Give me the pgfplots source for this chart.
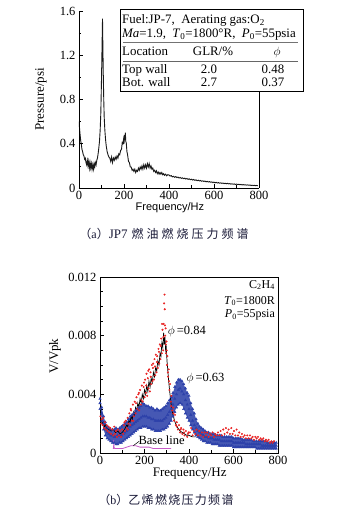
\documentclass[border=0pt]{standalone}
\usepackage{pgfplots}
\pgfplotsset{compat=1.18}
\usepackage{pgfplotstable}
\usepackage{fontspec}
\setmainfont{Liberation Serif}
\newfontfamily\sansfont{Liberation Sans}
\newfontfamily\cjk{Noto Sans CJK SC}
\definecolor{pblue}{RGB}{45,65,170}
\definecolor{pred}{RGB}{232,35,35}
\definecolor{pmag}{RGB}{200,90,200}
\definecolor{capcol}{RGB}{25,25,55}

\pgfplotstableread{
f v
0 0.60
2 0.55
4 0.50
6 0.46
8 0.42
10 0.40
13 0.35
16 0.33
19 0.30
22 0.29
25 0.26
28 0.27
31 0.23
34 0.21
37 0.25
40 0.20
43 0.24
46 0.18
49 0.23
52 0.18
55 0.22
58 0.17
61 0.21
64 0.17
67 0.22
70 0.19
73 0.23
76 0.21
79 0.25
82 0.27
85 0.31
88 0.36
91 0.42
94 0.52
97 0.68
99 0.88
101 1.10
103 1.35
104.5 1.53
106 1.30
108 1.02
110 0.80
112 0.64
115 0.52
118 0.44
121 0.38
125 0.33
129 0.30
133 0.28
137 0.27
141 0.24
145 0.28
149 0.23
153 0.27
157 0.25
161 0.28
165 0.26
169 0.29
173 0.27
177 0.31
181 0.30
185 0.34
189 0.35
192 0.41
195 0.40
198 0.44
200 0.40
202 0.48
204 0.43
206 0.50
208 0.42
210 0.41
213 0.33
216 0.30
220 0.24
224 0.23
228 0.19
232 0.19
236 0.16
240 0.17
244 0.15
248 0.17
252 0.14
256 0.16
260 0.15
264 0.18
268 0.16
272 0.19
276 0.17
280 0.20
284 0.17
288 0.21
292 0.18
296 0.21
300 0.18
304 0.22
308 0.19
312 0.22
316 0.18
320 0.20
324 0.17
328 0.18
332 0.15
336 0.16
340 0.14
344 0.155
348 0.13
352 0.145
356 0.125
360 0.14
364 0.125
368 0.14
372 0.12
376 0.13
380 0.115
385 0.125
390 0.11
395 0.12
400 0.118
405 0.108
410 0.112
415 0.101
420 0.106
425 0.097
430 0.103
435 0.094
440 0.099
445 0.090
450 0.095
455 0.087
460 0.092
465 0.084
470 0.089
475 0.081
480 0.086
485 0.078
490 0.083
495 0.075
500 0.080
505 0.072
510 0.077
515 0.069
520 0.074
525 0.066
530 0.071
535 0.064
540 0.068
545 0.061
550 0.065
555 0.059
560 0.063
565 0.056
570 0.060
575 0.054
580 0.058
585 0.052
590 0.055
595 0.049
600 0.053
605 0.047
610 0.051
615 0.045
620 0.049
625 0.043
630 0.047
635 0.042
640 0.045
645 0.040
650 0.043
655 0.038
660 0.042
665 0.037
670 0.040
675 0.035
680 0.038
685 0.034
690 0.037
695 0.032
700 0.035
705 0.031
710 0.034
715 0.030
720 0.032
725 0.028
730 0.031
735 0.027
740 0.029
745 0.026
750 0.028
755 0.025
760 0.027
765 0.023
770 0.025
775 0.022
780 0.024
785 0.021
790 0.023
795 0.020
}\toptab

\pgfplotstableread{
f lo mid hi
0 0.0030 0.0034 0.0037
8 0.0022 0.0027 0.0031
16 0.0016 0.0020 0.0025
24 0.0012 0.0016 0.0021
32 0.0010 0.0014 0.0018
40 0.0009 0.0013 0.0017
48 0.0008 0.0012 0.0016
56 0.0007 0.0012 0.0016
64 0.0007 0.0011 0.0016
72 0.0006 0.0011 0.0017
80 0.0006 0.0012 0.0016
88 0.0007 0.0012 0.0017
96 0.0007 0.0012 0.0018
104 0.0008 0.0013 0.0019
112 0.0009 0.0014 0.0020
120 0.0010 0.0015 0.0021
128 0.0011 0.0016 0.0023
136 0.0012 0.0018 0.0025
144 0.0013 0.0019 0.0026
152 0.0014 0.0020 0.0027
160 0.0015 0.0021 0.0029
168 0.0016 0.0022 0.0030
176 0.0017 0.0023 0.0031
184 0.0017 0.0024 0.0032
192 0.0018 0.0025 0.0034
200 0.0018 0.0025 0.0033
208 0.0018 0.0025 0.0032
216 0.0017 0.0024 0.0032
224 0.0017 0.0024 0.0031
232 0.0016 0.0023 0.0031
240 0.0016 0.0023 0.0030
248 0.0015 0.0022 0.0029
256 0.0015 0.0022 0.0030
264 0.0015 0.0022 0.0029
272 0.0015 0.0022 0.0029
280 0.0016 0.0022 0.0030
288 0.0016 0.0023 0.0031
296 0.0017 0.0024 0.0032
304 0.0018 0.0026 0.0034
312 0.0020 0.0028 0.0036
320 0.0022 0.0030 0.0038
328 0.0025 0.0033 0.0041
336 0.0028 0.0037 0.0045
344 0.0031 0.0040 0.0048
352 0.0033 0.0043 0.0050
360 0.0034 0.0044 0.0050
368 0.0033 0.0042 0.0049
376 0.0030 0.0040 0.0047
384 0.0027 0.0036 0.0044
392 0.0024 0.0033 0.0041
400 0.0022 0.0030 0.0039
408 0.0019 0.0026 0.0034
416 0.0016 0.0022 0.0030
424 0.0014 0.0019 0.0027
432 0.0012 0.0017 0.0023
440 0.0011 0.0015 0.0020
448 0.0010 0.0014 0.0018
456 0.0009 0.0013 0.0017
464 0.0008 0.0012 0.0016
472 0.0008 0.0011 0.0015
480 0.0007 0.0011 0.0014
488 0.0007 0.0010 0.0014
496 0.0007 0.0010 0.0013
504 0.0006 0.0010 0.0013
512 0.0006 0.0009 0.0013
520 0.0006 0.0009 0.0012
528 0.0006 0.0009 0.0012
536 0.0005 0.0009 0.0012
544 0.0005 0.0008 0.0012
552 0.0005 0.0008 0.0011
560 0.0005 0.0008 0.0011
568 0.0005 0.0008 0.0011
576 0.0005 0.0008 0.0011
584 0.0005 0.0008 0.0011
592 0.0005 0.0008 0.0011
600 0.0004 0.0007 0.0010
608 0.0004 0.0007 0.0010
616 0.0004 0.0007 0.0010
624 0.0004 0.0007 0.0010
632 0.0004 0.0007 0.0010
640 0.0004 0.0007 0.0009
648 0.0004 0.0007 0.0009
656 0.0004 0.0006 0.0009
664 0.0004 0.0006 0.0009
672 0.0004 0.0006 0.0009
680 0.0004 0.0006 0.0009
688 0.0004 0.0006 0.0008
696 0.0004 0.0006 0.0008
704 0.0003 0.0006 0.0008
712 0.0003 0.0006 0.0008
720 0.0003 0.0006 0.0008
728 0.0003 0.0005 0.0008
736 0.0003 0.0005 0.0008
744 0.0003 0.0005 0.0008
752 0.0003 0.0005 0.0007
760 0.0003 0.0005 0.0007
768 0.0003 0.0005 0.0007
776 0.0003 0.0005 0.0007
784 0.0003 0.0005 0.0007
792 0.0003 0.0005 0.0007
}\bluetab

\pgfplotstableread{
f v
2 0.0025
5 0.0020
8 0.0023
12 0.0019
15 0.0024
18 0.0017
22 0.0021
26 0.0016
30 0.0019
34 0.0015
38 0.0018
42 0.0014
46 0.0017
50 0.0013
55 0.0016
60 0.0012
64 0.0018
68 0.0013
72 0.0015
76 0.0011
80 0.0016
85 0.0012
90 0.0015
95 0.0011
100 0.0016
104 0.0013
108 0.0019
112 0.0015
116 0.0022
120 0.0017
124 0.0024
128 0.0020
132 0.0027
136 0.0019
140 0.0029
144 0.0022
148 0.0033
152 0.0025
156 0.0035
160 0.0027
164 0.0038
168 0.0030
172 0.0040
176 0.0029
180 0.0043
184 0.0033
188 0.0046
192 0.0035
196 0.0045
200 0.0038
203 0.0050
206 0.0041
209 0.0054
212 0.0039
215 0.0051
218 0.0044
221 0.0057
224 0.0042
227 0.0055
230 0.0047
233 0.0060
236 0.0049
239 0.0061
242 0.0050
245 0.0064
248 0.0053
251 0.0067
254 0.0055
257 0.0066
260 0.0058
263 0.0071
266 0.0061
269 0.0074
272 0.0064
275 0.0078
278 0.0068
281 0.0084
284 0.0070
286 0.0088
288 0.0102
290 0.0108
291 0.0098
293 0.0080
295 0.0085
297 0.0068
299 0.0076
301 0.0060
303 0.0066
306 0.0052
309 0.0057
312 0.0043
315 0.0047
318 0.0035
321 0.0039
325 0.0029
329 0.0031
333 0.0022
337 0.0026
341 0.0019
345 0.0021
350 0.0016
355 0.0019
360 0.0014
365 0.0017
370 0.0013
375 0.0016
380 0.0012
386 0.0015
392 0.0011
398 0.0014
404 0.0014
410 0.0017
416 0.0012
422 0.0015
428 0.0013
434 0.0016
440 0.0012
446 0.0015
452 0.0012
458 0.0014
464 0.0011
470 0.0014
476 0.0012
482 0.0014
488 0.0011
494 0.0013
500 0.0012
506 0.0014
512 0.0011
518 0.0013
524 0.0012
530 0.0014
536 0.0012
542 0.0015
548 0.0012
554 0.0016
560 0.0013
566 0.0017
572 0.0014
578 0.0016
584 0.0013
590 0.0017
596 0.0013
602 0.0015
608 0.0012
614 0.0016
620 0.0012
626 0.0014
632 0.0011
638 0.0013
644 0.0011
650 0.0012
656 0.0010
662 0.0012
668 0.0010
674 0.0012
680 0.0010
686 0.0011
692 0.0009
698 0.0011
704 0.0010
710 0.0011
716 0.0009
722 0.0010
728 0.0009
734 0.0010
740 0.0008
746 0.0009
752 0.0008
758 0.0009
764 0.0007
770 0.0008
776 0.0007
782 0.0008
110 0.0021
125 0.0016
138 0.0030
150 0.0022
162 0.0034
175 0.0041
187 0.0036
198 0.0048
208 0.0046
217 0.0056
228 0.0052
238 0.0058
247 0.0059
256 0.0062
265 0.0069
273 0.0073
279 0.0088
285 0.0079
292 0.0087
296 0.0074
300 0.0070
305 0.0055
310 0.0049
320 0.0032
330 0.0027
345 0.0018
362 0.0016
378 0.0014
395 0.0013
}\redtab

\pgfplotstableread{
f v
0 0.0024
5 0.0022
10 0.0020
15 0.0021
20 0.0018
25 0.0019
30 0.0017
40 0.0016
50 0.0015
60 0.0016
70 0.0014
80 0.0015
90 0.0013
100 0.0014
110 0.0016
120 0.0019
125 0.0018
130 0.0022
135 0.0021
140 0.0025
145 0.0023
150 0.0028
155 0.0026
160 0.0031
165 0.0029
170 0.0034
175 0.0031
180 0.0037
185 0.0034
190 0.0040
195 0.0037
200 0.0043
205 0.0040
210 0.0046
215 0.0042
220 0.0049
225 0.0045
230 0.0051
235 0.0048
240 0.0055
245 0.0052
250 0.0058
255 0.0056
260 0.0063
265 0.0060
270 0.0068
274 0.0066
278 0.0075
282 0.0072
286 0.0082
289 0.0074
292 0.0079
295 0.0070
298 0.0072
301 0.0063
304 0.0058
308 0.0050
312 0.0044
316 0.0038
320 0.0033
325 0.0028
330 0.0025
335 0.0022
340 0.0020
350 0.0017
360 0.0015
370 0.0014
380 0.0013
390 0.0012
400 0.0012
415 0.0011
430 0.0011
}\blacktab

\pgfplotstableread{
f v
58 0.0003
61 0.0003
62 0.0009
63 0.0004
66 0.0003
80 0.0003
100 0.0003
120 0.0004
140 0.0005
160 0.0005
180 0.0004
200 0.0004
220 0.0004
240 0.0003
260 0.0003
280 0.0003
300 0.0003
320 0.0003
}\magtab

\pgfplotsset{myax/.style={
  scale only axis,
  axis on top,
  tick align=inside,
  major tick length=4pt,
  minor tick length=2.5pt,
  axis line style={line width=0.7pt},
  every tick/.style={line width=0.6pt, black},
  tick label style={font=\fontsize{12.5}{14}\selectfont},
  /pgf/number format/assume math mode=true,
  xtick pos=bottom, ytick pos=left,
  label style={font=\fontsize{13}{15}\selectfont},
  xmin=0, xmax=800,
  xtick={0,200,400,600,800},
  xticklabels={0,200,400,600,800},
  minor xtick={100,300,500,700},
}}

\begin{document}
\begin{tikzpicture}
\path[use as bounding box] (0,0) rectangle (337pt,512pt);

% ---------- top panel ----------
\begin{axis}[myax,
  at={(79pt,324pt)}, anchor=south west,
  width=180pt, height=177pt,
  axis x line*=bottom, axis y line*=box,
  ymin=0, ymax=1.6,
  ytick={0,0.4,0.8,1.2,1.6},
  yticklabels={0,0.4,0.8,1.2,1.6},
  minor ytick={0.2,0.6,1.0,1.4},
  xlabel={\sansfont\fontsize{11}{13}\selectfont Frequency/Hz},
  ylabel={Pressure/psi},
  xlabel style={at={(axis description cs:0.505,-0.113)}, anchor=center},
  ylabel style={at={(axis description cs:-0.211,0.5)}, anchor=center},
]
\addplot[black!90, line width=0.9pt] table[x=f, y=v] {\toptab};
\end{axis}

% legend table
\draw[line width=0.6pt, fill=white] (120pt,420.3pt) rectangle (303pt,503pt);
\draw[line width=1.1pt, black!55] (123pt,469.3pt) -- (298pt,469.3pt);
\draw[line width=0.6pt, black!60] (123pt,451pt) -- (298pt,451pt);
\begin{scope}[every node/.style={inner sep=0pt, font=\fontsize{12.9}{14}\selectfont}]
\node[anchor=base west] at (122pt,488pt) {Fuel:JP-7,\ \ Aerating gas:O\textsubscript{2}};
\node[anchor=base west] at (122pt,474pt) {\textit{Ma}=1.9,\ \ \textit{T}\textsubscript{0}=1800°R,\ \ \textit{P}\textsubscript{0}=55psia};
\node[anchor=base west] at (122pt,456pt) {Location};
\node[anchor=base] at (213pt,456pt) {GLR/\%};
\node[anchor=base] at (277pt,456pt) {$\phi$};
\node[anchor=base west] at (122pt,438pt) {Top wall};
\node[anchor=base] at (209pt,438pt) {2.0};
\node[anchor=base] at (273pt,438pt) {0.48};
\node[anchor=base west] at (122pt,425pt) {Bot. wall};
\node[anchor=base] at (209pt,425pt) {2.7};
\node[anchor=base] at (273pt,425pt) {0.37};
\end{scope}

% caption a
\node[capcol, anchor=center, inner sep=0pt] at (164pt,278pt) {\fontsize{12}{14}\selectfont{\cjk （}a{\cjk ）}\fontsize{13}{14}\selectfont JP7\hspace{4pt}{\fontsize{12}{14}\selectfont\cjk 燃\kern3pt 油\kern3pt 燃\kern3pt 烧\kern3pt 压\kern3pt 力\kern3pt 频\kern3pt 谱}};

% ---------- bottom panel ----------
\begin{axis}[myax,
  at={(100pt,59pt)}, anchor=south west,
  width=178pt, height=176pt,
  ymin=0, ymax=0.012,
  scaled y ticks=false,
  ytick={0,0.004,0.008,0.012},
  yticklabels={0,0.004,0.008,0.012},
  minor ytick={0.001,0.002,0.003,0.005,0.006,0.007,0.009,0.010,0.011},
  xlabel={Frequency/Hz},
  ylabel={V/Vpk},
  xlabel style={at={(axis description cs:0.504,-0.119)}, anchor=center},
  ylabel style={at={(axis description cs:-0.253,0.55)}, anchor=center},
]
\addplot[draw=none, fill=pblue!88!white] table[x=f, y=hi] {\bluetab} \closedcycle;
\addplot[draw=none, fill=white] table[x=f, y=lo] {\bluetab} \closedcycle;
\addplot[pmag, line width=0.8pt] table[x=f, y=v] {\magtab};
\addplot[only marks, mark=triangle*, mark size=1.4pt, pblue] table[x=f, y=lo] {\bluetab};
\addplot[only marks, mark=triangle*, mark size=1.4pt, pblue] table[x=f, y=mid] {\bluetab};
\addplot[only marks, mark=triangle*, mark size=1.4pt, pblue] table[x=f, y=hi] {\bluetab};
\addplot[only marks, mark=*, mark size=0.8pt, pred] table[x=f, y=v] {\redtab};
\addplot[black, line width=0.7pt] table[x=f, y=v] {\blacktab};
\node[anchor=east, inner sep=0pt, font=\fontsize{12}{14}\selectfont] at (axis cs:787,0.01145) {C\textsubscript{2}H\textsubscript{4}};
\node[anchor=east, inner sep=0pt, font=\fontsize{12}{14}\selectfont] at (axis cs:787,0.01036) {\textit{T}\textsubscript{0}=1800R};
\node[anchor=east, inner sep=0pt, font=\fontsize{12}{14}\selectfont] at (axis cs:787,0.0094) {\textit{P}\textsubscript{0}=55psia};
\node[anchor=west, inner sep=0pt, font=\fontsize{12.5}{14}\selectfont] at (axis cs:304,0.0083) {$\phi$\,=0.84};
\node[anchor=west, inner sep=0pt, font=\fontsize{12.5}{14}\selectfont] at (axis cs:388,0.00505) {$\phi$\,=0.63};
\node[anchor=center, inner sep=0pt, font=\fontsize{12.5}{14}\selectfont] at (axis cs:277,0.00084) {Base line};
\draw[black, line width=0.5pt] (axis cs:150,0.0005) -- (axis cs:176,0.0008);
\end{axis}

% caption b
\node[capcol, anchor=center, inner sep=0pt] at (166pt,12pt) {\fontsize{12}{14}\selectfont{\cjk （}b{\cjk ）}{\cjk 乙\kern1.3pt 烯\kern1.3pt 燃\kern1.3pt 烧\kern1.3pt 压\kern1.3pt 力\kern1.3pt 频\kern1.3pt 谱}};
\end{tikzpicture}
\end{document}
